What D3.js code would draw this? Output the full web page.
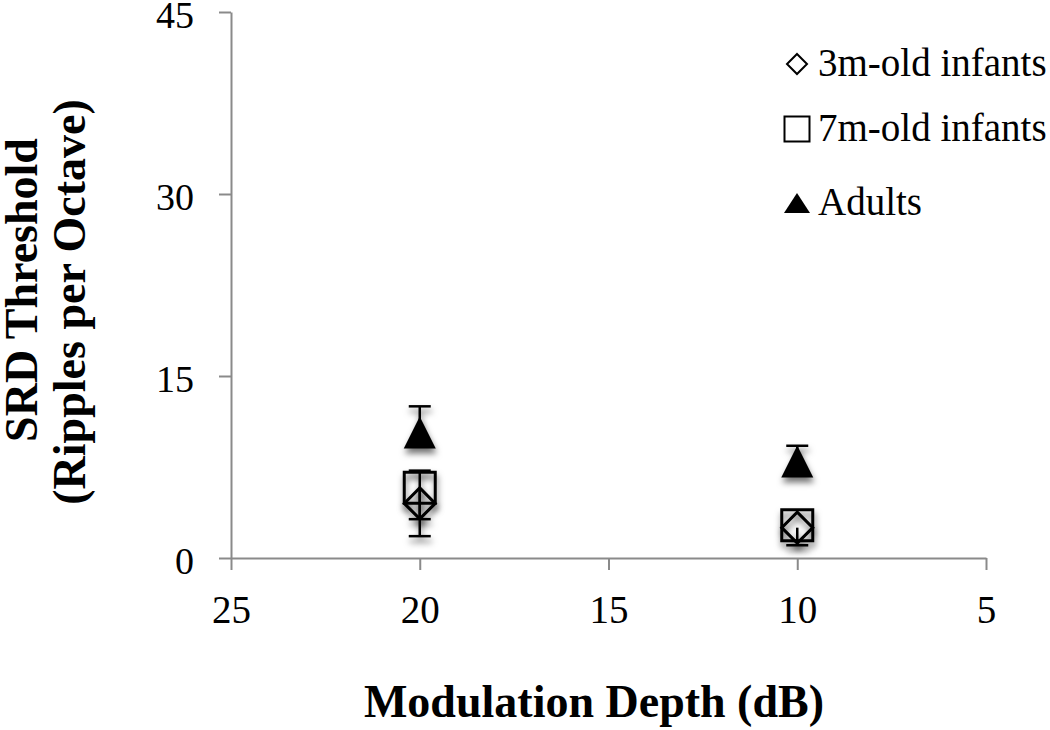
<!DOCTYPE html>
<html>
<head>
<meta charset="utf-8">
<script src="https://cdn.jsdelivr.net/npm/d3@7"></script>
<style>
  body { margin: 0; background: #fff; }
  svg text { font-family: "Liberation Serif", "Times New Roman", Tinos, "DejaVu Serif", serif !important; }
</style>
</head>
<body>
<div id="chart"></div>
<script>
// data
var depths = [20, 10];                 // modulation depth (dB)
var infants3m = [4.5, 2.5];            // 3m-old infants
var infants3mErrUp = [2.7, 0];
var infants3mErrDown = [2.7, 1.45];
var infants7m = [5.8, 2.7];            // 7m-old infants
var infants7mErrUp = [0, 0];
var infants7mErrDown = [2.6, 0];
var adults = [10.35, 7.95];            // adults
var adultsErrUp = [2.15, 1.3];
var adultsErrDown = [0, 0];
var xTicks = [25, 20, 15, 10, 5];
var yTicks = [0, 15, 30, 45];
var seriesNames = ["3m-old infants", "7m-old infants", "Adults"];

var width = 1050, height = 730;
var serif = "'Liberation Serif', 'Times New Roman', Tinos, 'DejaVu Serif', serif";

var svg = d3.select("#chart").append("svg")
    .attr("width", width)
    .attr("height", height)
    .attr("font-family", serif);

var defs = svg.append("defs");
defs.append("filter")
    .attr("id", "shadow")
    .attr("x", "-50%").attr("y", "-50%")
    .attr("width", "200%").attr("height", "200%")
  .append("feDropShadow")
    .attr("dx", 1).attr("dy", 5)
    .attr("stdDeviation", 3)
    .attr("flood-color", "#000")
    .attr("flood-opacity", 0.55);

var x = d3.scaleLinear().domain([25, 5]).range([231, 986]);
var y = d3.scaleLinear().domain([0, 45]).range([558, 12]);

var axisColor = "#8a8a8a";

// x axis
var gx = svg.append("g")
    .attr("transform", "translate(0," + y(0) + ")")
    .call(d3.axisBottom(x).tickValues(xTicks).tickSize(12).tickSizeOuter(0).tickFormat(d3.format("d")))
    .attr("font-family", serif);
gx.selectAll("text")
    .attr("y", 65).attr("dy", 0)
    .attr("fill", "#000")
    .attr("font-size", 39);

// y axis
var gy = svg.append("g")
    .attr("transform", "translate(" + x(25) + ",0)")
    .call(d3.axisLeft(y).tickValues(yTicks).tickSize(12).tickSizeOuter(0).tickFormat(d3.format("d")))
    .attr("font-family", serif);
gy.selectAll("text")
    .attr("x", -37).attr("dy", "0.42em")
    .attr("fill", "#000")
    .attr("font-size", 38);

svg.selectAll(".domain, .tick line")
    .attr("stroke", axisColor)
    .attr("stroke-width", 2);

// axis titles
svg.append("text")
    .attr("x", 594).attr("y", 717)
    .attr("text-anchor", "middle")
    .attr("font-size", 46).attr("font-weight", "bold")
    .text("Modulation Depth (dB)");

svg.append("text")
    .attr("transform", "translate(37,290) rotate(-90)")
    .attr("text-anchor", "middle")
    .attr("font-size", 46).attr("font-weight", "bold")
    .text("SRD Threshold");
svg.append("text")
    .attr("transform", "translate(85,302) rotate(-90)")
    .attr("text-anchor", "middle")
    .attr("font-size", 46).attr("font-weight", "bold")
    .text("(Ripples per Octave)");

// marker shapes
function shape(kind, s) {
  var h = s / 2;
  if (kind === "diamond") return "M0," + (-h) + "L" + h + ",0L0," + h + "L" + (-h) + ",0Z";
  if (kind === "square") return "M" + (-h) + "," + (-h) + "H" + h + "V" + h + "H" + (-h) + "Z";
  return "M0," + (-h) + "L" + h + "," + h + "L" + (-h) + "," + h + "Z";
}

var series = [
  { name: seriesNames[0], kind: "diamond", values: infants3m, up: infants3mErrUp, down: infants3mErrDown, size: 31 },
  { name: seriesNames[1], kind: "square", values: infants7m, up: infants7mErrUp, down: infants7mErrDown, size: 31 },
  { name: seriesNames[2], kind: "triangle", values: adults, up: adultsErrUp, down: adultsErrDown, size: 32 }
];

var plot = svg.append("g");

series.forEach(function (s) {
  var pts = depths.map(function (d, i) {
    return { x: d, v: s.values[i], up: s.up[i], down: s.down[i] };
  });

  var eb = plot.append("g").attr("stroke", "#000").attr("stroke-width", 2.5).attr("filter", "url(#shadow)");
  pts.forEach(function (p) {
    var cx = x(p.x);
    var top = y(p.v + p.up), bot = y(p.v - p.down);
    if (p.up > 0 || p.down > 0) {
      eb.append("line").attr("x1", cx).attr("x2", cx).attr("y1", top).attr("y2", bot);
    }
    if (p.up > 0) eb.append("line").attr("x1", cx - 11).attr("x2", cx + 11).attr("y1", top).attr("y2", top);
    if (p.down > 0) eb.append("line").attr("x1", cx - 11).attr("x2", cx + 11).attr("y1", bot).attr("y2", bot);
  });

  plot.append("g").attr("filter", "url(#shadow)")
    .selectAll("path")
    .data(pts)
    .enter().append("path")
    .attr("transform", function (p) { return "translate(" + x(p.x) + "," + y(p.v) + ")"; })
    .attr("d", shape(s.kind, s.size))
    .attr("fill", s.kind === "triangle" ? "#000" : "none")
    .attr("stroke", "#000")
    .attr("stroke-width", s.kind === "triangle" ? 0 : 3)
    .attr("stroke-linejoin", "miter");
});

// legend
var legendY = [64, 129, 203];
var legendSize = [20, 25, 26];
var legend = svg.append("g");
series.forEach(function (s, i) {
  legend.append("path")
    .attr("transform", "translate(797," + legendY[i] + ")")
    .attr("d", s.kind === "triangle" ? "M0,-10L13,10L-13,10Z" : shape(s.kind, legendSize[i]))
    .attr("fill", s.kind === "triangle" ? "#000" : "none")
    .attr("stroke", "#000")
    .attr("stroke-width", s.kind === "triangle" ? 0 : 2);
  legend.append("text")
    .attr("x", 818).attr("y", legendY[i] + 12)
    .attr("font-size", 39)
    .text(s.name);
});
</script>
</body>
</html>
